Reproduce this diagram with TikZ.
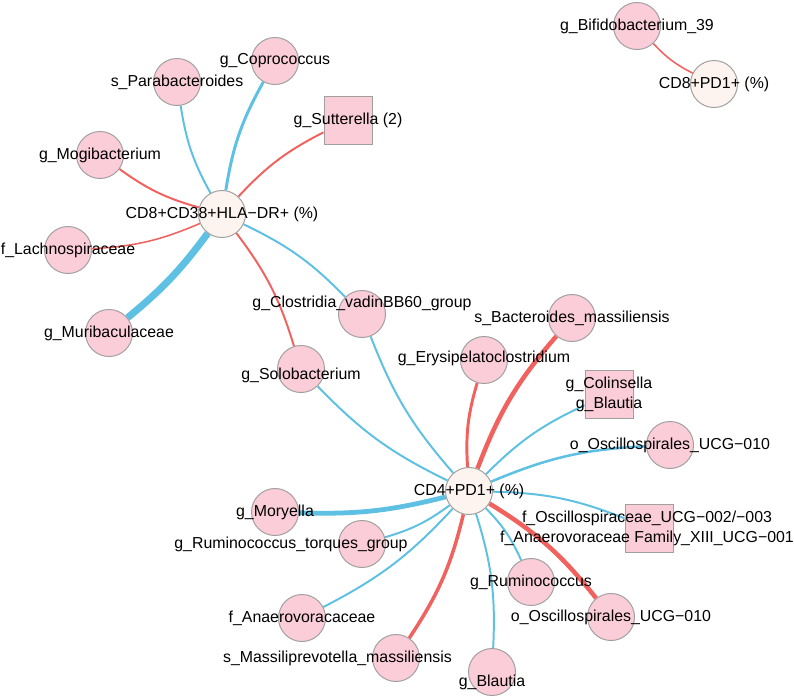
\documentclass[tikz,border=0pt]{standalone}
\usepackage{fontspec}
\setmainfont{Liberation Sans}
\usetikzlibrary{backgrounds}
\definecolor{taxpink}{RGB}{250,205,216}
\definecolor{hubfill}{RGB}{253,244,239}
\definecolor{nodegray}{RGB}{160,160,160}
\definecolor{edgered}{RGB}{241,98,94}
\definecolor{edgeblue}{RGB}{94,192,226}

\begin{document}
\begin{tikzpicture}[x=0.025cm, y=-0.025cm,
  taxon/.style={circle, draw=nodegray, fill=taxpink, line width=0.7pt, minimum size=1.175cm, inner sep=0pt},
  taxbox/.style={rectangle, draw=nodegray, fill=taxpink, line width=0.7pt, minimum size=1.2cm, inner sep=0pt},
  hub/.style={taxon, fill=hubfill},
  lbl/.style={font=\fontsize{11.3}{14.2}\selectfont, align=center, inner sep=0pt},
  redlink/.style={draw=edgered, line width=#1},
  bluelink/.style={draw=edgeblue, line width=#1}]
\useasboundingbox (0,0) rectangle (794,698);

% 中心节点
\node[hub, label={[lbl]center:CD8+CD38+HLA−DR+ (\%)}] (cdHLA) at (222,214) {};
\node[hub, label={[lbl]center:CD4+PD1+ (\%)}] (cdCD4) at (469,491) {};
\node[hub, label={[lbl]center:CD8+PD1+ (\%)}] (cdPD1) at (714,84) {};

% 菌群节点
\node[taxon, label={[lbl]center:g\_Bifidobacterium\_39}] (bifido) at (637,26) {};
\node[taxon, label={[lbl]center:g\_Coprococcus}] (copro) at (275,61) {};
\node[taxon, label={[lbl]center:s\_Parabacteroides}] (parab) at (177,82) {};
\node[taxbox, label={[lbl]center:g\_Sutterella (2)}] (sutter) at (348,120) {};
\node[taxon, label={[lbl]center:g\_Mogibacterium}] (mogi) at (100,155) {};
\node[taxon, label={[lbl]center:f\_Lachnospiraceae}] (lachno) at (68,250) {};
\node[taxon, label={[lbl]center:g\_Muribaculaceae}] (murib) at (109,333) {};
\node[taxon, label={[lbl, yshift=7.8pt]center:g\_Clostridia\_vadinBB60\_group}] (clost) at (362,314) {};
\node[taxon, label={[lbl, yshift=-4.3pt]center:g\_Solobacterium}] (solo) at (301,369) {};
\node[taxon, label={[lbl]center:s\_Bacteroides\_massiliensis}] (bact) at (572,318) {};
\node[taxon, label={[lbl, yshift=1.4pt]center:g\_Erysipelatoclostridium}] (erys) at (484,360) {};
\node[taxbox, label={[lbl]center:g\_Colinsella\\g\_Blautia}] (colin) at (609,394) {};
\node[taxon, label={[lbl]center:o\_Oscillospirales\_UCG−010}] (oscUp) at (670,445) {};
\node[taxbox, label={[lbl, xshift=-1.4pt]center:f\_Oscillospiraceae\_UCG−002/−003\\f\_Anaerovoraceae Family\_XIII\_UCG−001}] (oscFam) at (649,528) {};
\node[taxon, label={[lbl]center:g\_Ruminococcus}] (rumin) at (531,582) {};
\node[taxon, label={[lbl]center:o\_Oscillospirales\_UCG−010}] (oscLow) at (611,617) {};
\node[taxon, label={[lbl, yshift=-7.1pt]center:g\_Blautia}] (blautia) at (492,672) {};
\node[taxon, label={[lbl, xshift=-41.6pt]center:s\_Massiliprevotella\_massiliensis}] (massil) at (396,658) {};
\node[taxon, label={[lbl]center:f\_Anaerovoracaceae}] (anaero) at (302,618) {};
\node[taxon, label={[lbl, xshift=-50.5pt]center:g\_Ruminococcus\_torques\_group}] (torques) at (362,544) {};
\node[taxon, label={[lbl]center:g\_Moryella}] (mory) at (275,512) {};

% 连线
\begin{scope}[on background layer]
\draw[redlink=1.1pt] (cdPD1) to[bend left=10] (bifido);

\draw[bluelink=1.4pt] (cdHLA) to[bend left=10] (parab);
\draw[bluelink=2.1pt] (cdHLA) to[bend left=10] (copro);
\draw[redlink=1.4pt] (cdHLA) to[bend left=10] (sutter);
\draw[redlink=1.4pt] (cdHLA) to[bend left=10] (mogi);
\draw[redlink=1.1pt] (cdHLA) to[bend left=10] (lachno);
\draw[bluelink=5pt] (cdHLA) to[bend left=7] (murib);
\draw[redlink=1.4pt] (cdHLA) to[bend left=10] (solo);
\draw[bluelink=1.4pt] (cdHLA) to[bend left=10] (clost);

\draw[bluelink=1.4pt] (cdCD4) to[bend left=10] (clost);
\draw[bluelink=1.4pt] (cdCD4) to[bend left=10] (solo);
\draw[redlink=2.1pt] (cdCD4) to[bend left=10] (erys);
\draw[redlink=3.2pt] (cdCD4) to[bend left=10] (bact);
\draw[bluelink=1.4pt] (cdCD4) to[bend left=10] (colin);
\draw[bluelink=1.8pt] (cdCD4) to[bend left=10] (oscUp);
\draw[bluelink=1.4pt] (cdCD4) to[bend left=10] (oscFam);
\draw[redlink=3.2pt] (cdCD4) to[bend left=10] (oscLow);
\draw[bluelink=1.4pt] (cdCD4) to[bend left=10] (rumin);
\draw[bluelink=1.4pt] (cdCD4) to[bend left=10] (blautia);
\draw[redlink=2.5pt] (cdCD4) to[bend left=10] (massil);
\draw[bluelink=1.4pt] (cdCD4) to[bend left=10] (anaero);
\draw[bluelink=1.4pt] (cdCD4) to[bend left=10] (torques);
\draw[bluelink=3.4pt] (cdCD4) to[bend left=8] (mory);
\end{scope}
\end{tikzpicture}
\end{document}
